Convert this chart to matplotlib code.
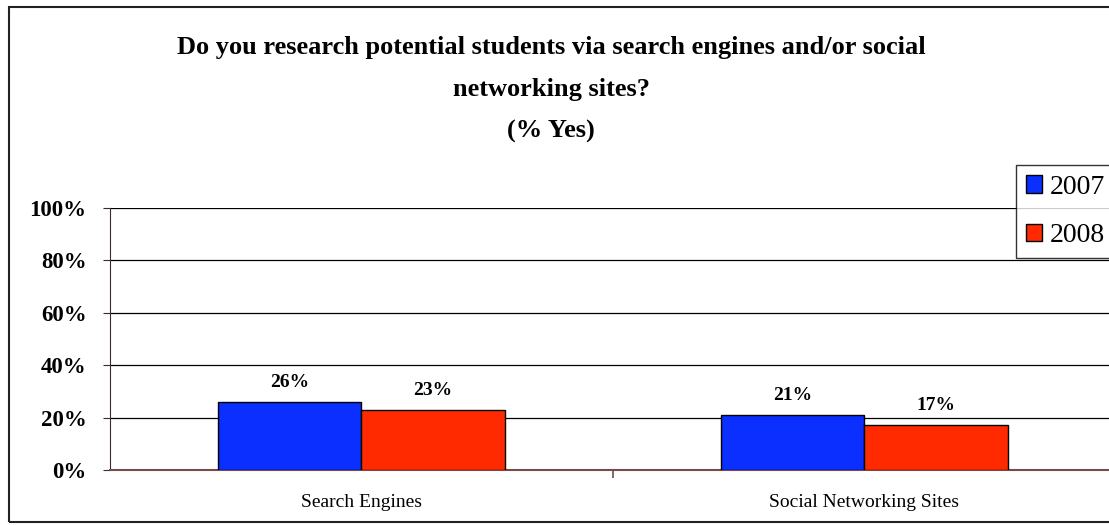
import numpy as np
import matplotlib.pyplot as plt
from matplotlib.patches import Patch, Rectangle

categories = ['Search Engines', 'Social Networking Sites']
years = ['2007', '2008']
yes_2007 = [26, 21]
yes_2008 = [23, 17]
bar_colors = ['#0a2fff', '#ff2a00']

plt.rcParams['font.family'] = ['Liberation Serif', 'DejaVu Serif']

fig = plt.figure(figsize=(11.09, 5.25), dpi=100)
ax = fig.add_axes([0.0992, 0.1048, 0.907, 0.499])

x = np.arange(len(categories))
w = 0.285
series = [yes_2007, yes_2008]
for i, vals in enumerate(series):
    pos = x + (i - 0.5) * w
    bars = ax.bar(pos, vals, width=w, color=bar_colors[i], edgecolor='black',
                  linewidth=1.0, zorder=3)
    for b, v in zip(bars, vals):
        ax.annotate(f'{v}%', (b.get_x() + b.get_width() / 2, v),
                    xytext=(0, 8), textcoords='offset points',
                    ha='center', va='bottom', fontsize=14, fontweight='bold')

ax.set_xlim(-0.5, 1.5)
ax.set_ylim(0, 100)
ax.set_yticks(range(0, 101, 20))
ax.set_yticklabels([f'{t}%' for t in range(0, 101, 20)], fontsize=16.5, fontweight='bold')
ax.set_xticks([0.5], minor=False)
ax.set_xticklabels([''])
ax.set_xticks(x, minor=True)
ax.set_xticklabels(categories, minor=True, fontsize=14)
ax.tick_params(axis='x', which='minor', length=0, pad=17)
ax.tick_params(axis='x', which='major', length=6, color='#6a5050', width=1.2)
ax.tick_params(axis='y', length=5, pad=12, color='#3a2a2a')
ax.yaxis.grid(True, color='black', linewidth=0.9, zorder=0)

for side in ['top', 'right']:
    ax.spines[side].set_visible(False)
ax.spines['left'].set_color('#3a2a2a')
ax.spines['bottom'].set_color('#7a4a4a')
ax.spines['bottom'].set_linewidth(1.5)

fig.suptitle('Do you research potential students via search engines and/or social\n'
             'networking sites?\n(% Yes)',
             x=0.497, y=0.931, fontsize=19, fontweight='bold', linespacing=2.05)

handles = [Patch(facecolor=c, edgecolor='black', linewidth=1.0) for c in bar_colors]
leg = fig.legend(handles, years, loc='upper left', bbox_to_anchor=(1016 / 1109, 1 - 165 / 525),
                 fontsize=20, frameon=True, fancybox=False, edgecolor='black',
                 handlelength=0.58, handleheight=0.58, handletextpad=0.3,
                 labelspacing=0.85, borderpad=0.35, borderaxespad=0)
leg.get_frame().set_linewidth(1.0)

# outer chart frame
fig.patches.append(Rectangle((9 / 1109, 1 - 522 / 525), 1.1, 515 / 525,
                             transform=fig.transFigure, fill=False,
                             edgecolor='#222222', linewidth=1.5))

fig.savefig('out.png', dpi=100)
